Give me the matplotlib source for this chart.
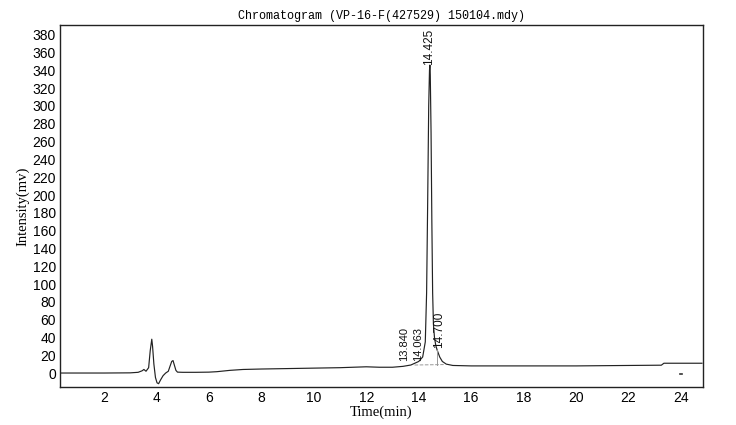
import numpy as np
import matplotlib.pyplot as plt

# ----------------------------------------
# Chromatogram trace
# ----------------------------------------
time_min = [0.32, 1.0, 2.0, 3.0, 3.3, 3.45, 3.52, 3.6, 3.7, 3.76, 3.82, 3.85, 3.9, 3.96,
            4.02, 4.08, 4.15, 4.25, 4.35, 4.45, 4.52, 4.58, 4.63, 4.68, 4.74, 4.8, 5.0,
            5.5, 6.0, 6.3, 6.8, 7.3, 8.0, 9.0, 10.0, 11.0, 12.0, 12.5, 13.0, 13.4,
            13.7, 13.85, 14.0, 14.15, 14.25, 14.3, 14.34, 14.38, 14.41, 14.425, 14.44,
            14.47, 14.5, 14.53, 14.56, 14.6, 14.65, 14.7, 14.8, 14.9, 15.05, 15.3, 16.0,
            18.0, 20.0, 22.0, 23.25, 23.35, 24.0, 24.8]
intensity = [0.0, 0.0, 0.0, 0.2, 0.8, 2.5, 4.0, 2.0, 6.0, 25.0, 38.0, 30.0, 10.0, -5.0,
             -11.0, -12.0, -8.0, -3.0, 0.0, 2.0, 8.0, 13.0, 14.0, 9.0, 3.0, 1.0, 0.8,
             0.8, 1.0, 1.5, 3.0, 4.0, 4.5, 5.0, 5.5, 6.0, 7.0, 6.5, 6.5, 7.5,
             9.0, 11.0, 13.0, 18.0, 35.0, 90.0, 190.0, 300.0, 340.0, 346.0, 335.0,
             270.0, 170.0, 90.0, 55.0, 40.0, 31.0, 26.0, 18.0, 13.0, 10.0, 8.5, 8.0,
             8.0, 8.0, 8.5, 8.8, 11.0, 11.0, 11.0]

peak_times = [13.840, 14.063, 14.425, 14.700]
peak_labels = ["13.840", "14.063", "14.425", "14.700"]

x_ticks = [2, 4, 6, 8, 10, 12, 14, 16, 18, 20, 22, 24]
y_ticks = list(range(0, 381, 20))

# ----------------------------------------
# Plot
# ----------------------------------------
fig = plt.figure(figsize=(7.36, 4.25), dpi=100)
ax = fig.add_axes([60 / 736, 38 / 425, 643 / 736, 362 / 425])

ax.plot(time_min, intensity, color="#222222", linewidth=0.85)

# integration baseline and drop line of the main peak
ax.plot([13.84, 14.95], [9.0, 9.5], color="#999999", linewidth=0.7, linestyle="--")
ax.plot([14.70, 14.70], [9.3, 26.0], color="#999999", linewidth=0.7)

# retention time labels (the two small ones sit side by side)
label_shift = [-0.38, -0.1, -0.05, 0.07]
label_bases = [13.0, 14.0, 346.0, 28.0]
label_sizes = [8, 8, 8.5, 8.5]
for t, lab, base, dx, fs in zip(peak_times, peak_labels, label_bases, label_shift, label_sizes):
    ax.text(t + dx, base, lab, rotation=90, ha="center", va="bottom",
            fontsize=fs, family="Liberation Sans", color="#111111")

# small marker near the end of the run
ax.plot([23.95, 24.05], [-1.5, -1.5], color="#333333", linewidth=1.2)

ax.set_xlim(0.32, 24.84)
ax.set_ylim(-15.7, 391)
ax.set_xticks(x_ticks)
ax.set_yticks(y_ticks)
ax.tick_params(length=0, labelsize=10, pad=3)
for lab in ax.get_xticklabels() + ax.get_yticklabels():
    lab.set_family("Liberation Sans")
for s in ax.spines.values():
    s.set_linewidth(1.0)
    s.set_color("#222222")

ax.set_xlabel("Time(min)", family="Liberation Serif", fontsize=10.5, labelpad=0)
ax.set_ylabel("Intensity(mv)", family="Liberation Serif", fontsize=10.5, labelpad=2)
ax.set_title("Chromatogram (VP-16-F(427529) 150104.mdy)", family="Liberation Mono",
             fontsize=8.5, pad=4)

fig.savefig("out.png", dpi=100)
